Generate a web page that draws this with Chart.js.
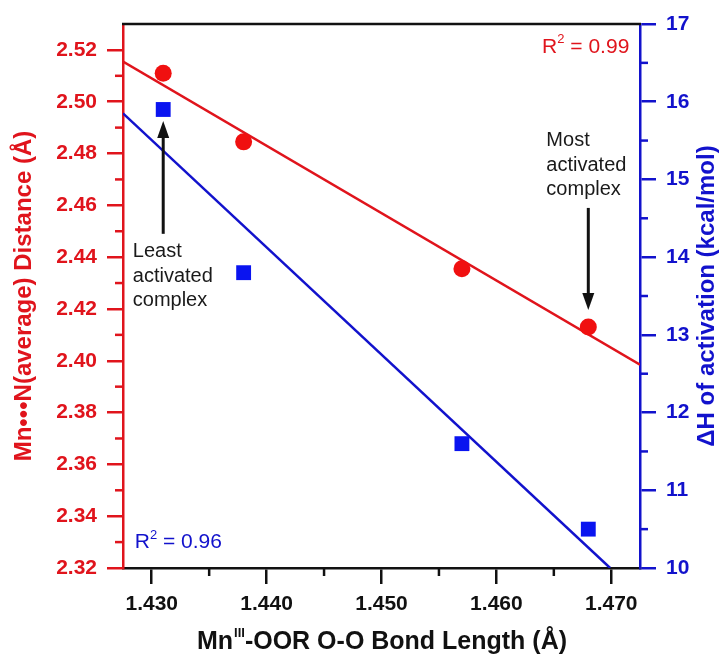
<!DOCTYPE html>
<html>
<head>
<meta charset="utf-8">
<script src="https://cdn.jsdelivr.net/npm/chart.js@4.4.1/dist/chart.umd.min.js"></script>
<style>
    body { margin: 0; background: #ffffff; }
    #wrap { width: 723px; height: 663px; position: relative; }
</style>
</head>
<body>
<div id="wrap"><canvas id="myChart"></canvas></div>
<script>
// values
var bondLength = [1.431, 1.438, 1.457, 1.468]
var mnDistance = [2.511, 2.4845, 2.4355, 2.413]
var deltaH = [15.9, 13.8, 11.6, 10.5]

// linear fits (end points)
var distFitX = [1.4275, 1.4725]
var distFitY = [2.5155, 2.3985]
var dhFitX = [1.4275, 1.4699]
var dhFitY = [15.85, 10.0]

var xTicks = [1.430, 1.440, 1.450, 1.460, 1.470]
var distTicks = [2.32, 2.34, 2.36, 2.38, 2.40, 2.42, 2.44, 2.46, 2.48, 2.50, 2.52]
var dhTicks = [10, 11, 12, 13, 14, 15, 16, 17]

var RED = '#e0141c'
var BLUE = '#1212cc'
var INK = '#111111'
var FONT = '"Liberation Sans", Arial, sans-serif'

// annotations, placed in axis units (x, left y axis)
var notes = [
    { lines: ['Least', 'activated', 'complex'], x: 1.42835, y: 2.442 },
    { lines: ['Most', 'activated', 'complex'], x: 1.46435, y: 2.4849 }
]
var arrows = [
    { x: 1.431, from: 2.449, to: 2.4926 },
    { x: 1.468, from: 2.459, to: 2.4196 }
]

function pts(xs, ys) {
    return xs.map((x, i) => ({ x: x, y: ys[i] }))
}

function mids(arr) {
    return arr.slice(1).map((v, i) => (v + arr[i]) / 2)
}

function fixedTicks(list) {
    return function(axis) {
        axis.ticks = list.map(v => ({ value: v }))
    }
}

function drawR2(ctx, value, x, y, align, color) {
    ctx.fillStyle = color
    ctx.textBaseline = 'middle'
    ctx.font = '21px ' + FONT
    var wR = ctx.measureText('R').width
    var rest = ' = ' + value
    var wRest = ctx.measureText(rest).width
    ctx.font = '13px ' + FONT
    var wSup = ctx.measureText('2').width
    var total = wR + wSup + wRest
    var left = align === 'right' ? x - total : x
    ctx.textAlign = 'left'
    ctx.font = '21px ' + FONT
    ctx.fillText('R', left, y)
    ctx.font = '13px ' + FONT
    ctx.fillText('2', left + wR, y - 7)
    ctx.font = '21px ' + FONT
    ctx.fillText(rest, left + wR + wSup, y)
}

var decorations = {
    id: 'decorations',
    afterDraw(chart) {
        const ctx = chart.ctx
        const xs = chart.scales.x
        const yL = chart.scales.yL
        const yR = chart.scales.yR
        const area = chart.chartArea
        ctx.save()

        // top frame line
        ctx.strokeStyle = INK
        ctx.lineWidth = 2.5
        ctx.beginPath()
        ctx.moveTo(area.left - 1, area.top)
        ctx.lineTo(area.right + 1, area.top)
        ctx.stroke()

        // minor ticks
        ctx.lineWidth = 2.5
        ctx.strokeStyle = RED
        mids(distTicks).forEach(v => {
            const p = yL.getPixelForValue(v)
            ctx.beginPath(); ctx.moveTo(area.left - 8, p); ctx.lineTo(area.left, p); ctx.stroke()
        })
        ctx.strokeStyle = BLUE
        mids(dhTicks).forEach(v => {
            const p = yR.getPixelForValue(v)
            ctx.beginPath(); ctx.moveTo(area.right, p); ctx.lineTo(area.right + 8, p); ctx.stroke()
        })
        ctx.strokeStyle = INK
        mids(xTicks).forEach(v => {
            const p = xs.getPixelForValue(v)
            ctx.beginPath(); ctx.moveTo(p, area.bottom); ctx.lineTo(p, area.bottom + 8); ctx.stroke()
        })

        // axis titles
        const midY = (area.top + area.bottom) / 2
        ctx.font = 'bold 24px ' + FONT
        ctx.textAlign = 'center'
        ctx.textBaseline = 'middle'
        ctx.fillStyle = RED
        ctx.save()
        ctx.translate(24, midY)
        ctx.rotate(-Math.PI / 2)
        ctx.fillText('Mn\u2022\u2022\u2022N(average) Distance (\u00c5)', 0, 0)
        ctx.restore()
        ctx.fillStyle = BLUE
        ctx.save()
        ctx.translate(707, midY)
        ctx.rotate(-Math.PI / 2)
        ctx.fillText('\u0394H of activation (kcal/mol)', 0, 0)
        ctx.restore()

        // x title with superscript
        ctx.fillStyle = INK
        ctx.textAlign = 'left'
        ctx.font = 'bold 25px ' + FONT
        const a = 'Mn', b = '-OOR O-O Bond Length (\u00c5)'
        const wa = ctx.measureText(a).width
        const wb = ctx.measureText(b).width
        ctx.font = 'bold 13px ' + FONT
        const ws = ctx.measureText('III').width
        let tx = (area.left + area.right) / 2 - (wa + ws + wb) / 2
        const ty = 642
        ctx.font = 'bold 25px ' + FONT
        ctx.fillText(a, tx, ty)
        ctx.font = 'bold 13px ' + FONT
        ctx.fillText('III', tx + wa + 1, ty - 9)
        ctx.font = 'bold 25px ' + FONT
        ctx.fillText(b, tx + wa + ws + 1, ty)

        // R squared labels
        drawR2(ctx, '0.99', xs.getPixelForValue(1.47157), yL.getPixelForValue(2.5212), 'right', RED)
        drawR2(ctx, '0.96', xs.getPixelForValue(1.42852), yL.getPixelForValue(2.330), 'left', BLUE)

        // notes
        ctx.fillStyle = '#1a1a1a'
        ctx.font = '20px ' + FONT
        ctx.textAlign = 'left'
        ctx.textBaseline = 'middle'
        notes.forEach(n => {
            const nx = xs.getPixelForValue(n.x)
            const ny = yL.getPixelForValue(n.y)
            n.lines.forEach((t, i) => ctx.fillText(t, nx, ny + i * 24.5))
        })

        // arrows
        ctx.strokeStyle = INK
        ctx.fillStyle = INK
        ctx.lineWidth = 3
        arrows.forEach(ar => {
            const px = xs.getPixelForValue(ar.x)
            const p0 = yL.getPixelForValue(ar.from)
            const p1 = yL.getPixelForValue(ar.to)
            const dir = p1 < p0 ? -1 : 1
            ctx.beginPath()
            ctx.moveTo(px, p0)
            ctx.lineTo(px, p1 - dir * 12)
            ctx.stroke()
            ctx.beginPath()
            ctx.moveTo(px, p1)
            ctx.lineTo(px - 6, p1 - dir * 17)
            ctx.lineTo(px + 6, p1 - dir * 17)
            ctx.closePath()
            ctx.fill()
        })

        ctx.restore()
    }
}

function setChart() {
    const ctx = document.getElementById('myChart')
    new Chart(ctx, {
        type: 'scatter',
        data: {
            datasets: [
                {
                    label: 'Mn-N distance',
                    data: pts(bondLength, mnDistance),
                    yAxisID: 'yL',
                    pointStyle: 'circle',
                    pointRadius: 8.5,
                    pointHoverRadius: 8.5,
                    backgroundColor: '#f01010',
                    borderWidth: 0,
                    order: 0
                },
                {
                    label: 'Delta H',
                    data: pts(bondLength, deltaH),
                    yAxisID: 'yR',
                    pointStyle: 'rect',
                    pointRadius: 10.5,
                    pointHoverRadius: 10.5,
                    backgroundColor: '#0a14f0',
                    borderWidth: 0,
                    order: 0
                },
                {
                    type: 'line',
                    label: 'distance fit',
                    data: pts(distFitX, distFitY),
                    yAxisID: 'yL',
                    borderColor: RED,
                    borderWidth: 2.5,
                    pointRadius: 0,
                    fill: false,
                    order: 1
                },
                {
                    type: 'line',
                    label: 'dH fit',
                    data: pts(dhFitX, dhFitY),
                    yAxisID: 'yR',
                    borderColor: BLUE,
                    borderWidth: 2.5,
                    pointRadius: 0,
                    fill: false,
                    order: 1
                }
            ]
        },
        options: {
            responsive: true,
            maintainAspectRatio: false,
            animation: false,
            layout: {
                padding: { top: 24, left: 0, right: 0, bottom: 0 }
            },
            plugins: {
                legend: { display: false },
                tooltip: { enabled: false }
            },
            scales: {
                x: {
                    type: 'linear',
                    position: 'bottom',
                    min: 1.4275,
                    max: 1.4725,
                    afterBuildTicks: fixedTicks(xTicks),
                    afterFit: function(s) { s.height = 95 },
                    ticks: {
                        callback: v => v.toFixed(3),
                        color: INK,
                        font: { family: FONT, size: 21, weight: 'bold' },
                        padding: 8,
                        maxRotation: 0,
                        autoSkip: false
                    },
                    grid: { drawOnChartArea: false, tickLength: 16, color: INK, lineWidth: 2.5 },
                    border: { color: INK, width: 2.5 }
                },
                yL: {
                    type: 'linear',
                    position: 'left',
                    min: 2.32,
                    max: 2.53,
                    afterBuildTicks: fixedTicks(distTicks),
                    afterFit: function(s) { s.width = 123 },
                    ticks: {
                        callback: v => v.toFixed(2),
                        color: RED,
                        font: { family: FONT, size: 21, weight: 'bold' },
                        padding: 10
                    },
                    grid: { drawOnChartArea: false, tickLength: 16, color: RED, lineWidth: 2.5 },
                    border: { color: RED, width: 2.5 }
                },
                yR: {
                    type: 'linear',
                    position: 'right',
                    min: 10,
                    max: 17,
                    afterBuildTicks: fixedTicks(dhTicks),
                    afterFit: function(s) { s.width = 83 },
                    ticks: {
                        callback: v => String(v),
                        color: BLUE,
                        font: { family: FONT, size: 21, weight: 'bold' },
                        padding: 10
                    },
                    grid: { drawOnChartArea: false, tickLength: 16, color: BLUE, lineWidth: 2.5 },
                    border: { color: BLUE, width: 2.5 }
                }
            }
        },
        plugins: [decorations]
    })
}

setChart()
</script>
</body>
</html>
